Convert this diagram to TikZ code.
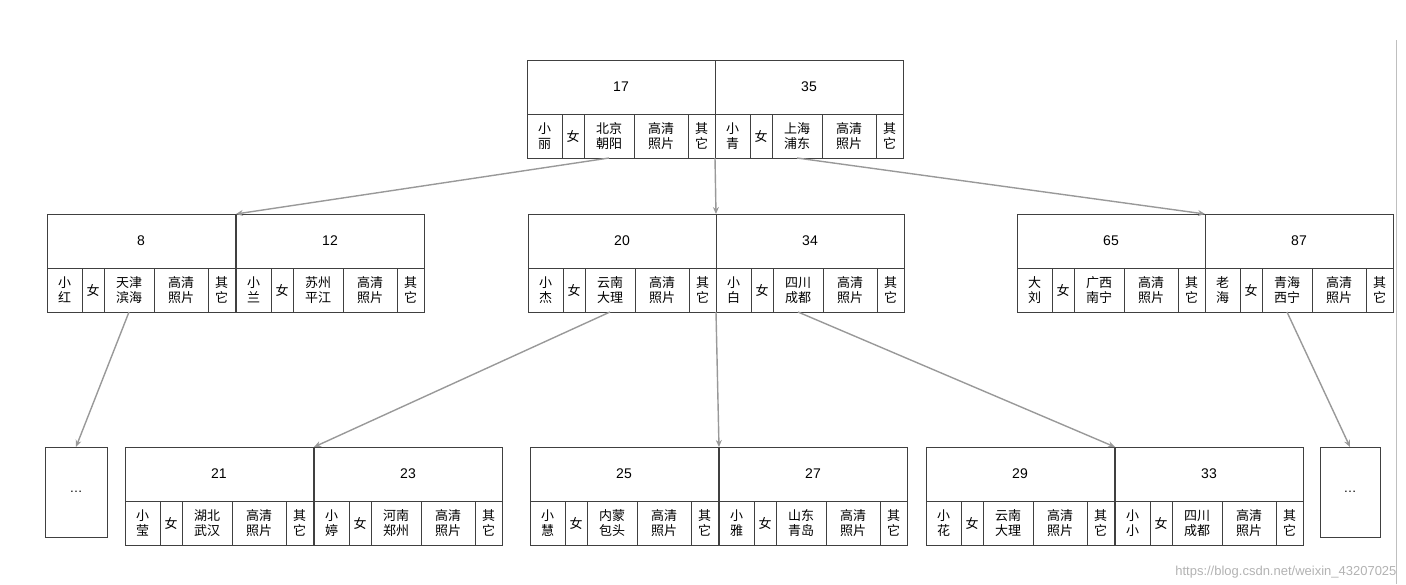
\documentclass[tikz,border=0pt]{standalone}
\usepackage{fontspec}
\setmainfont{Liberation Sans}
\newfontfamily\cjk{Noto Sans CJK SC}
\usetikzlibrary{arrows.meta}
\tikzset{box/.style={draw=black!75,line width=0.9pt,inner sep=0pt,outer sep=0pt,anchor=north west,font=\cjk\fontsize{13}{15}\selectfont,align=center},
 arr/.style={draw=black!40,line width=1.4pt,-{Stealth[length=7pt,width=6pt]}}}
% \bcell{id}{x}{y}{num}{name}{loc}
\newcommand{\bcell}[6]{%
 \node[box,minimum width=188pt,minimum height=54pt,font=\fontsize{14}{16}\selectfont] (#1) at (#2pt,-#3pt) {#4};
 \node[box,minimum width=35pt,minimum height=44pt] (#1n) at (#1.south west) {#5};
 \node[box,minimum width=22pt,minimum height=44pt] (#1f) at (#1n.north east) {女};
 \node[box,minimum width=50pt,minimum height=44pt] (#1l) at (#1f.north east) {#6};
 \node[box,minimum width=54pt,minimum height=44pt] (#1p) at (#1l.north east) {高清\\照片};
 \node[box,minimum width=27pt,minimum height=44pt] (#1o) at (#1p.north east) {其\\它};
}
\begin{document}
\begin{tikzpicture}[x=1pt,y=1pt]
\useasboundingbox (0,0) rectangle (1406,-584);
\draw[black!25,line width=1pt] (1396,-40) -- (1396,-584);
\bcell{a}{527}{60}{17}{小\\丽}{北京\\朝阳}
\bcell{b}{715}{60}{35}{小\\青}{上海\\浦东}
\bcell{c}{47}{214}{8}{小\\红}{天津\\滨海}
\bcell{d}{236}{214}{12}{小\\兰}{苏州\\平江}
\bcell{e}{528}{214}{20}{小\\杰}{云南\\大理}
\bcell{f}{716}{214}{34}{小\\白}{四川\\成都}
\bcell{g}{1017}{214}{65}{大\\刘}{广西\\南宁}
\bcell{h}{1205}{214}{87}{老\\海}{青海\\西宁}
\bcell{i}{125}{447}{21}{小\\莹}{湖北\\武汉}
\bcell{j}{314}{447}{23}{小\\婷}{河南\\郑州}
\bcell{k}{530}{447}{25}{小\\慧}{内蒙\\包头}
\bcell{m}{719}{447}{27}{小\\雅}{山东\\青岛}
\bcell{p}{926}{447}{29}{小\\花}{云南\\大理}
\bcell{q}{1115}{447}{33}{小\\小}{四川\\成都}
\node[box,minimum width=62pt,minimum height=90pt] (x1) at (45pt,-447pt) {\rmfamily\dots};
\node[box,minimum width=60pt,minimum height=90pt] (x2) at (1320pt,-447pt) {\rmfamily\dots};
\draw[arr] (al.south) -- (d.north west);
\draw[arr] (b.south west |- bn.south) -- (f.north west);
\draw[arr] (bl.south) -- (h.north west);
\draw[arr] (cl.south) -- (x1.north);
\draw[arr] (el.south) -- (j.north west);
\draw[arr] (f.south west |- fn.south) -- (m.north west);
\draw[arr] (fl.south) -- (q.north west);
\draw[arr] (hl.south) -- (x2.north);
\node[anchor=south east,text=black!30,font=\fontsize{13}{15}\selectfont] (wm) at (1400pt,-582pt) {https://blog.csdn.net/weixin\_43207025};
\end{tikzpicture}
\end{document}
